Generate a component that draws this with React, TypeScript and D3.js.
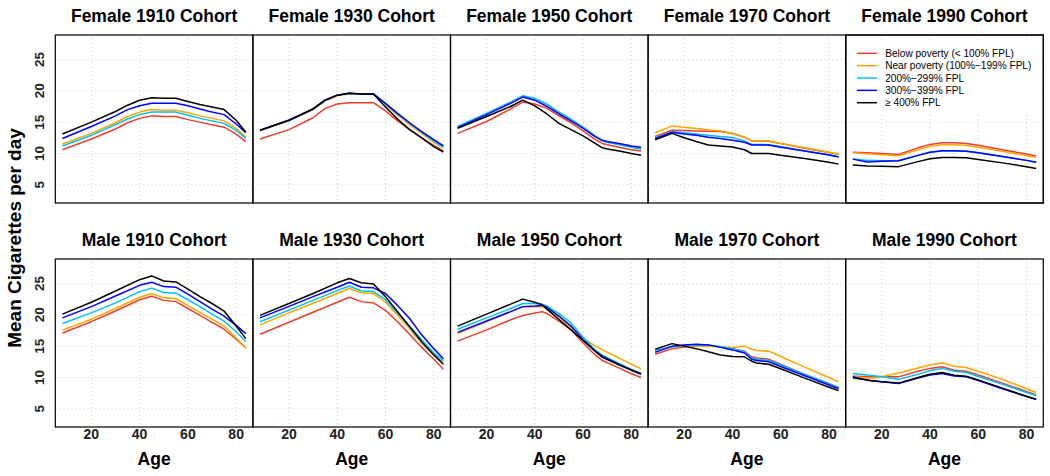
import React from 'react';
import * as d3 from 'd3';

const SERIES_LABELS = [
  'Below poverty (< 100% FPL)',
  'Near poverty (100%\u2212199% FPL)',
  '200%\u2212299% FPL',
  '300%\u2212399% FPL',
  '\u2265 400% FPL',
];
const SERIES_COLORS = ['#E8402F', '#FFA500', '#00BFFF', '#0000FF', '#000000'];
const Y_TICKS = [5, 10, 15, 20, 25];
const X_TICKS = [20, 40, 60, 80];

// Each panel: ages + mean cigarettes/day for the five FPL groups (below, near, 200-299, 300-399, >=400)
const F1910 = {
  title: 'Female 1910 Cohort',
  ages: [8, 20, 30, 35, 40, 45, 50, 55, 60, 65, 70, 75, 80, 84],
  below: [10.6, 12.3, 13.9, 14.9, 15.6, 16.0, 15.9, 15.9, 15.4, 15.0, 14.6, 14.2, 13.1, 11.9],
  near: [11.5, 13.2, 14.9, 15.9, 16.6, 17.0, 16.9, 16.9, 16.5, 16.0, 15.6, 15.2, 14.0, 12.6],
  p200: [11.2, 12.9, 14.6, 15.5, 16.2, 16.6, 16.6, 16.6, 16.1, 15.6, 15.2, 14.8, 13.7, 12.4],
  p300: [12.4, 14.3, 16.0, 17.0, 17.6, 18.0, 18.0, 18.0, 17.6, 17.1, 16.6, 16.2, 14.7, 13.3],
  p400: [13.1, 15.0, 16.7, 17.7, 18.5, 18.9, 18.8, 18.8, 18.3, 17.8, 17.4, 17.0, 15.3, 13.4],
};
const F1930 = {
  title: 'Female 1930 Cohort',
  ages: [8, 20, 30, 35, 40, 45, 50, 55, 60, 65, 70, 75, 80, 84],
  below: [12.3, 13.8, 15.7, 17.2, 17.9, 18.1, 18.1, 18.1, 16.8, 15.2, 13.8, 12.5, 11.3, 10.4],
  near: [13.6, 15.2, 17.0, 18.4, 19.2, 19.5, 19.5, 19.5, 17.8, 16.1, 14.6, 13.2, 11.8, 10.9],
  p200: [13.7, 15.3, 17.1, 18.5, 19.3, 19.6, 19.5, 19.5, 17.9, 16.3, 14.8, 13.4, 12.0, 11.0],
  p300: [13.7, 15.3, 17.1, 18.5, 19.3, 19.6, 19.5, 19.5, 18.0, 16.4, 14.9, 13.5, 12.2, 11.2],
  p400: [13.7, 15.3, 17.1, 18.5, 19.3, 19.6, 19.5, 19.5, 17.4, 15.5, 13.8, 12.5, 11.1, 10.2],
};
const F1950 = {
  title: 'Female 1950 Cohort',
  ages: [8, 20, 30, 35, 40, 45, 50, 55, 60, 65, 68, 70, 75, 80, 84],
  below: [13.2, 15.1, 17.1, 18.2, 17.9, 17.2, 16.0, 14.9, 13.6, 12.2, 11.6, 11.4, 11.0, 10.6, 10.4],
  near: [14.2, 16.3, 18.2, 19.2, 18.7, 17.8, 16.5, 15.3, 14.1, 12.7, 12.0, 11.8, 11.5, 11.1, 10.8],
  p200: [14.3, 16.4, 18.2, 19.2, 18.8, 17.9, 16.6, 15.5, 14.2, 12.8, 12.0, 11.8, 11.4, 11.0, 10.7],
  p300: [14.1, 16.2, 18.0, 19.0, 18.5, 17.5, 16.3, 15.2, 14.0, 12.7, 12.1, 11.9, 11.6, 11.2, 11.0],
  p400: [14.0, 15.9, 17.5, 18.5, 17.6, 16.3, 14.8, 13.8, 12.8, 11.6, 10.9, 10.7, 10.4, 10.0, 9.7],
};
const F1970 = {
  title: 'Female 1970 Cohort',
  ages: [8, 15, 20, 25, 30, 35, 40, 45, 48, 55, 60, 70, 80, 84],
  below: [12.7, 13.7, 13.65, 13.6, 13.55, 13.5, 13.2, 12.6, 12.0, 11.95, 11.6, 10.85, 10.15, 9.85],
  near: [13.3, 14.4, 14.2, 14.0, 13.8, 13.6, 13.2, 12.6, 12.0, 12.0, 11.6, 10.9, 10.2, 9.9],
  p200: [12.5, 13.45, 13.3, 13.1, 12.9, 12.7, 12.55, 12.0, 11.45, 11.4, 11.1, 10.4, 9.8, 9.5],
  p300: [12.35, 13.4, 13.1, 12.9, 12.6, 12.4, 12.1, 11.8, 11.35, 11.35, 11.0, 10.4, 9.75, 9.45],
  p400: [12.2, 13.2, 12.5, 11.9, 11.35, 11.2, 11.05, 10.6, 10.0, 10.0, 9.7, 9.2, 8.6, 8.3],
};
const F1990 = {
  title: 'Female 1990 Cohort',
  ages: [8, 14, 20, 27, 35, 40, 45, 50, 55, 60, 70, 80, 84],
  below: [10.2, 10.1, 10.0, 9.85, 10.9, 11.45, 11.7, 11.7, 11.6, 11.3, 10.6, 9.9, 9.6],
  near: [10.1, 9.95, 9.8, 9.65, 10.6, 11.15, 11.4, 11.4, 11.3, 11.0, 10.35, 9.65, 9.4],
  p200: [9.1, 8.9, 8.85, 8.85, 9.7, 10.2, 10.4, 10.4, 10.35, 10.1, 9.5, 8.9, 8.6],
  p300: [9.1, 8.65, 8.75, 8.85, 9.7, 10.2, 10.45, 10.45, 10.35, 10.1, 9.5, 8.9, 8.6],
  p400: [8.15, 8.0, 7.95, 7.9, 8.7, 9.15, 9.35, 9.35, 9.3, 9.05, 8.5, 7.9, 7.6],
};
const M1910 = {
  title: 'Male 1910 Cohort',
  ages: [8, 20, 30, 40, 45, 50, 55, 60, 65, 70, 75, 80, 84],
  below: [17.1, 18.9, 20.6, 22.4, 22.95, 22.3, 22.1, 21.0, 19.9, 18.8, 17.7, 16.1, 14.7],
  near: [17.55, 19.3, 21.0, 22.8, 23.4, 22.7, 22.6, 21.5, 20.4, 19.3, 18.2, 16.3, 14.7],
  p200: [18.6, 20.3, 21.9, 23.7, 24.25, 23.55, 23.45, 22.4, 21.3, 20.1, 19.0, 17.3, 15.75],
  p300: [19.5, 21.3, 23.0, 24.7, 25.2, 24.5, 24.4, 23.3, 22.1, 20.9, 19.8, 18.3, 17.0],
  p400: [20.1, 22.0, 23.8, 25.6, 26.2, 25.4, 25.25, 24.1, 22.9, 21.8, 20.6, 18.2, 16.2],
};
const M1930 = {
  title: 'Male 1930 Cohort',
  ages: [8, 20, 30, 40, 45, 50, 55, 60, 65, 70, 75, 80, 84],
  below: [16.9, 18.8, 20.4, 22.0, 22.8, 22.1, 21.9, 20.7, 18.9, 16.9, 14.8, 12.9, 11.3],
  near: [18.4, 20.3, 21.85, 23.4, 24.2, 23.5, 23.4, 22.0, 19.9, 17.8, 15.5, 13.6, 12.5],
  p200: [18.9, 20.75, 22.3, 23.85, 24.6, 23.8, 23.7, 22.4, 20.3, 18.2, 16.0, 13.9, 12.7],
  p300: [19.5, 21.35, 22.9, 24.4, 25.2, 24.4, 24.3, 23.4, 21.5, 19.4, 16.8, 14.6, 13.0],
  p400: [19.9, 21.8, 23.4, 25.1, 25.8, 25.1, 24.9, 22.9, 20.5, 18.1, 15.7, 13.6, 12.1],
};
const M1950 = {
  title: 'Male 1950 Cohort',
  ages: [8, 20, 30, 35, 40, 43, 45, 50, 55, 60, 65, 68, 75, 80, 84],
  below: [15.8, 17.6, 19.2, 19.9, 20.3, 20.5, 20.2, 19.0, 17.6, 15.5, 13.6, 12.7, 11.5, 10.6, 10.0],
  near: [17.0, 18.9, 20.5, 21.3, 21.3, 21.3, 21.0, 19.6, 18.0, 16.3, 15.0, 14.4, 13.1, 12.1, 11.4],
  p200: [17.7, 19.5, 21.0, 21.8, 21.8, 21.7, 21.4, 20.2, 18.7, 16.4, 14.4, 13.5, 12.2, 11.3, 10.7],
  p300: [17.2, 19.0, 20.5, 21.3, 21.4, 21.5, 21.2, 19.8, 18.2, 16.0, 14.2, 13.4, 12.1, 11.2, 10.6],
  p400: [18.2, 20.1, 21.7, 22.5, 22.0, 21.6, 20.9, 19.25, 17.6, 15.9, 14.2, 13.2, 12.0, 11.2, 10.5],
};
const M1970 = {
  title: 'Male 1970 Cohort',
  ages: [8, 15, 20, 25, 30, 35, 40, 45, 48, 50, 55, 60, 70, 80, 84],
  below: [13.7, 14.6, 14.85, 15.0, 15.1, 14.9, 14.6, 14.2, 13.3, 13.1, 12.9, 12.1, 10.5, 9.0, 8.35],
  near: [14.1, 14.9, 15.0, 15.0, 15.0, 14.9, 14.8, 15.0, 14.5, 14.3, 14.2, 13.35, 11.66, 10.0, 9.3],
  p200: [14.25, 14.9, 15.1, 15.2, 15.2, 14.9, 14.6, 14.1, 13.1, 12.9, 12.7, 12.0, 10.5, 9.0, 8.4],
  p300: [14.0, 15.0, 15.2, 15.3, 15.2, 14.8, 14.4, 13.9, 12.9, 12.7, 12.5, 11.76, 10.28, 8.8, 8.2],
  p400: [14.5, 15.4, 15.0, 14.6, 14.1, 13.6, 13.35, 13.3, 12.6, 12.3, 12.1, 11.4, 9.9, 8.45, 7.9],
};
const M1990 = {
  title: 'Male 1990 Cohort',
  ages: [8, 15, 20, 27, 35, 40, 45, 50, 55, 60, 70, 80, 84],
  below: [10.2, 10.1, 10.1, 10.1, 11.0, 11.45, 11.7, 11.15, 11.0, 10.4, 9.1, 7.75, 7.2],
  near: [10.2, 9.85, 10.1, 10.7, 11.5, 12.0, 12.35, 11.8, 11.6, 11.0, 9.7, 8.2, 7.6],
  p200: [10.65, 10.35, 10.1, 9.7, 10.5, 11.1, 11.45, 11.0, 10.8, 10.15, 8.9, 7.6, 7.1],
  p300: [10.1, 9.5, 9.3, 9.05, 9.9, 10.4, 10.65, 10.25, 10.1, 9.5, 8.2, 6.95, 6.5],
  p400: [9.95, 9.5, 9.3, 9.1, 10.0, 10.5, 10.8, 10.35, 10.2, 9.6, 8.3, 7.0, 6.55],
};

const ROWS = [
  [F1910, F1930, F1950, F1970, F1990],
  [M1910, M1930, M1950, M1970, M1990],
];
const SERIES_KEYS = ['below', 'near', 'p200', 'p300', 'p400'];

const W = 1050;
const H = 476;
const PANEL_LEFT = 55.3;
const PANEL_W = 197.6;
const PANEL_H = 168;
const ROW_TOPS = [35, 259];
const X_DOMAIN: [number, number] = [5.06, 86.94];
const Y_DOMAIN: [number, number] = [2.1, 28.9];
const FONT = '"Liberation Sans", Arial, Helvetica, sans-serif';

function Panel({ data, left, top, row, col }: any) {
  const x = d3.scaleLinear().domain(X_DOMAIN).range([left, left + PANEL_W]);
  const y = d3.scaleLinear().domain(Y_DOMAIN).range([top + PANEL_H, top]);
  const line = d3
    .line<number>()
    .x((_, i) => x(data.ages[i]))
    .y((v) => y(v))
    .curve(d3.curveLinear);
  const cx = left + PANEL_W / 2;
  return (
    <g>
      <text x={cx} y={top - 13} textAnchor="middle" fontFamily={FONT} fontWeight="bold" fontSize={17.5}>
        {data.title}
      </text>
      {X_TICKS.map((t) => (
        <line key={'gx' + t} x1={x(t)} x2={x(t)} y1={top} y2={top + PANEL_H} stroke="#cfcfcf" strokeWidth={1} strokeDasharray="1,3" />
      ))}
      {Y_TICKS.map((t) => (
        <line key={'gy' + t} x1={left} x2={left + PANEL_W} y1={y(t)} y2={y(t)} stroke="#cfcfcf" strokeWidth={1} strokeDasharray="1,3" />
      ))}
      {SERIES_KEYS.map((k, i) => (
        <path key={k} d={line(data[k]) || ''} fill="none" stroke={SERIES_COLORS[i]} strokeWidth={1.5} strokeLinejoin="round" />
      ))}
      <rect x={left} y={top} width={PANEL_W} height={PANEL_H} fill="none" stroke="#000" strokeWidth={1.2} />
      {col === 0 &&
        Y_TICKS.map((t) => (
          <text
            key={'yl' + t}
            transform={`translate(${43.5},${y(t)}) rotate(-90)`}
            textAnchor="middle"
            fontFamily={FONT}
            fontWeight="bold"
            fontSize={13.5}
            fill="#222"
          >
            {t}
          </text>
        ))}
      {row === 1 &&
        X_TICKS.map((t) => (
          <text key={'xl' + t} x={x(t)} y={top + PANEL_H + 12} textAnchor="middle" fontFamily={FONT} fontWeight="bold" fontSize={14} fill="#222">
            {t}
          </text>
        ))}
      {row === 1 && (
        <text x={cx} y={top + PANEL_H + 38} textAnchor="middle" fontFamily={FONT} fontWeight="bold" fontSize={17.5}>
          Age
        </text>
      )}
    </g>
  );
}

function Legend({ left, top }: any) {
  const rowGap = 12.35;
  return (
    <g>
      <rect x={left + 3.5} y={top + 7} width={191} height={70} fill="#fff" />
      {SERIES_LABELS.map((lab, i) => {
        const yy = top + 18.3 + i * rowGap;
        return (
          <g key={lab}>
            <line x1={left + 11.2} x2={left + 31.2} y1={yy} y2={yy} stroke={SERIES_COLORS[i]} strokeWidth={1.5} />
            <text x={left + 39.5} y={yy + 3.6} fontFamily={FONT} fontSize={10.1} fill="#000">
              {lab}
            </text>
          </g>
        );
      })}
    </g>
  );
}

export default function App() {
  return (
    <svg
      width={W}
      height={H}
      viewBox={`0 0 ${W} ${H}`}
      style={{ position: 'absolute', left: 0, top: 0, background: '#fff' }}
    >
      <rect x={0} y={0} width={W} height={H} fill="#fff" />
      {ROWS.map((row, r) =>
        row.map((p, c) => (
          <Panel key={p.title} data={p} left={PANEL_LEFT + c * PANEL_W} top={ROW_TOPS[r]} row={r} col={c} />
        ))
      )}
      <Legend left={PANEL_LEFT + 4 * PANEL_W} top={ROW_TOPS[0]} />
      <rect x={PANEL_LEFT + 4 * PANEL_W} y={ROW_TOPS[0]} width={PANEL_W} height={PANEL_H} fill="none" stroke="#000" strokeWidth={1.2} />
      <text
        transform={`translate(21,238) rotate(-90)`}
        textAnchor="middle"
        fontFamily={FONT}
        fontWeight="bold"
        fontSize={19}
      >
        Mean Cigarettes per day
      </text>
    </svg>
  );
}
